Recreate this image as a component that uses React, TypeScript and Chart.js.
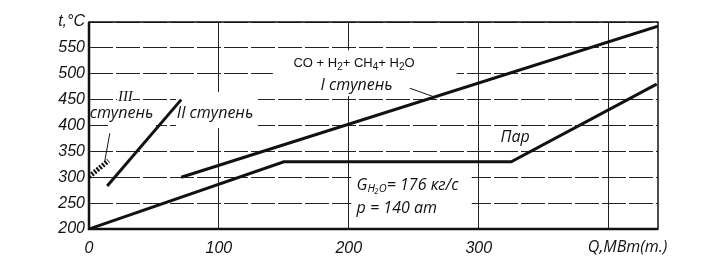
import React, { useEffect, useRef } from "react";
import { Chart, registerables } from "chart.js";

Chart.register(...registerables);

// ---- data ----
const xTickValues = [0, 100, 200, 300, 400];
const yTickValues = [200, 250, 300, 350, 400, 450, 500, 550, 600];
const qMax = 438;

// Пар (steam/water side)
const steamQ = [0, 150, 325, 437];
const steamT = [200, 330, 330, 480];
// I ступень: CO+H2+CH4+H2O
const stage1Q = [71, 438];
const stage1T = [300, 592];
// II ступень
const stage2Q = [14, 71];
const stage2T = [283, 450];
// III ступень
const stage3Q = [0, 15];
const stage3T = [301, 332];

const yTitle = "t,°C";
const xTitle = "Q,МВт(т.)";

const toPts = (q: number[], t: number[]) => q.map((v, i) => ({ x: v, y: t[i] }));

const TICK_FAMILY = "'Liberation Sans', Arial, sans-serif";
const ITAL = "italic 16px 'Open Sans'";
const INK = "#111";

type Run = { t: string; sub?: boolean };

function drawRuns(
  ctx: CanvasRenderingContext2D,
  runs: Run[],
  x: number,
  y: number,
  align: "left" | "center",
  font: string,
  subFont: string,
  subShift: number
) {
  let total = 0;
  for (const r of runs) {
    ctx.font = r.sub ? subFont : font;
    total += ctx.measureText(r.t).width;
  }
  let cx = align === "center" ? x - total / 2 : x;
  ctx.textAlign = "left";
  ctx.textBaseline = "middle";
  for (const r of runs) {
    ctx.font = r.sub ? subFont : font;
    ctx.fillText(r.t, cx, r.sub ? y + subShift : y);
    cx += ctx.measureText(r.t).width;
  }
}

const xTitleQ = 384;

const annotPlugin = {
  id: "annot",
  beforeDatasetsDraw(chart: any) {
    const { ctx, chartArea, scales } = chart;
    const X = (v: number) => scales.x.getPixelForValue(v);
    const Y = (v: number) => scales.y.getPixelForValue(v);
    ctx.save();
    // white label backgrounds that interrupt the grid (as in the drawing)
    const boxes = [
      [141.5, 545.6, 283, 456.8],
      [202, 310, 294.6, 221],
      [67, 464.5, 130, 395],
      [14.6, 439, 51.5, 395],
      [21.5, 464.5, 33.5, 441],
    ];
    ctx.fillStyle = "#fff";
    for (const [x0, y0, x1, y1] of boxes) {
      ctx.fillRect(X(x0), Y(y0), X(x1) - X(x0), Y(y1) - Y(y0));
    }
    // frame
    ctx.strokeStyle = INK;
    ctx.lineWidth = 1.5;
    ctx.strokeRect(chartArea.left, chartArea.top, chartArea.right - chartArea.left, chartArea.bottom - chartArea.top);
    ctx.lineWidth = 2.5;
    ctx.beginPath();
    ctx.moveTo(chartArea.left, chartArea.top);
    ctx.lineTo(chartArea.left, chartArea.bottom);
    ctx.lineTo(chartArea.right, chartArea.bottom);
    ctx.stroke();
    ctx.restore();
  },
  afterDatasetsDraw(chart: any) {
    const { ctx, chartArea, scales } = chart;
    const X = (v: number) => scales.x.getPixelForValue(v);
    const Y = (v: number) => scales.y.getPixelForValue(v);
    ctx.save();
    ctx.fillStyle = INK;
    ctx.strokeStyle = INK;

    // CO+H2+CH4+H2O
    drawRuns(
      ctx,
      [
        { t: "CO + H" },
        { t: "2", sub: true },
        { t: "+ CH" },
        { t: "4", sub: true },
        { t: "+ H" },
        { t: "2", sub: true },
        { t: "O" },
      ],
      X(204),
      Y(520),
      "center",
      "13px 'Liberation Sans'",
      "10px 'Liberation Sans'",
      4
    );
    drawRuns(ctx, [{ t: "I ступень" }], X(206), Y(478), "center", ITAL, ITAL, 0);
    drawRuns(ctx, [{ t: "III" }], X(28), Y(455), "center", "italic 15px 'Liberation Serif'", ITAL, 0);
    drawRuns(ctx, [{ t: "ступень" }], X(25), Y(424), "center", ITAL, ITAL, 0);
    drawRuns(ctx, [{ t: "II ступень" }], X(97), Y(424), "center", ITAL, ITAL, 0);
    drawRuns(ctx, [{ t: "Пар" }], X(328), Y(376), "center", ITAL, ITAL, 0);
    drawRuns(
      ctx,
      [{ t: "G" }, { t: "H₂O", sub: true }, { t: "= 176 кг/с" }],
      X(206),
      Y(285),
      "left",
      ITAL,
      "italic 11px 'Open Sans'",
      4
    );
    drawRuns(ctx, [{ t: "p = 140 ат" }], X(206), Y(240), "left", ITAL, ITAL, 0);

    // leader lines
    ctx.lineWidth = 1;
    ctx.beginPath();
    ctx.moveTo(X(247), Y(472));
    ctx.lineTo(X(266), Y(455));
    ctx.moveTo(X(16), Y(385));
    ctx.lineTo(X(12), Y(329));
    ctx.stroke();

    // x-axis title in place of the 400 label
    ctx.font = "italic 16px 'Open Sans'";
    ctx.textAlign = "left";
    ctx.textBaseline = "middle";
    ctx.fillText(xTitle, X(xTitleQ), chartArea.bottom + 18);
    ctx.restore();
  },
};

export default function App() {
  const ref = useRef<HTMLCanvasElement>(null);
  useEffect(() => {
    if (!ref.current) return;
    const line = (q: number[], t: number[], w: number, dash: number[] = []) => ({
      data: toPts(q, t),
      borderColor: INK,
      borderWidth: w,
      borderDash: dash,
      pointRadius: 0,
      tension: 0,
      fill: false,
      borderCapStyle: "butt" as const,
    });
    const chart = new Chart(ref.current, {
      type: "line",
      data: {
        datasets: [
          line(steamQ, steamT, 3),
          line(stage1Q, stage1T, 3),
          line(stage2Q, stage2T, 3),
          line(stage3Q, stage3T, 5, [2, 1.5]),
        ],
      },
      plugins: [annotPlugin],
      options: {
        animation: false,
        responsive: false,
        events: [],
        layout: { padding: { left: 0, top: 22, right: 67, bottom: 0 } },
        plugins: { legend: { display: false }, tooltip: { enabled: false } },
        scales: {
          x: {
            type: "linear",
            min: 0,
            max: qMax,
            afterBuildTicks: (s: any) => {
              s.ticks = xTickValues.map((v) => ({ value: v }));
            },
            afterFit: (s: any) => {
              s.height = 40;
            },
            grid: { color: "#222", lineWidth: 1, drawTicks: false },
            border: { display: false },
            ticks: {
              color: INK,
              font: { family: TICK_FAMILY, size: 16, style: "italic" },
              padding: 10,
              maxRotation: 0,
              callback: (v: any) => (v === 400 ? "" : String(v)),
            },
          },
          y: {
            type: "linear",
            min: 200,
            max: 600,
            afterBuildTicks: (s: any) => {
              s.ticks = yTickValues.map((v) => ({ value: v }));
            },
            afterFit: (s: any) => {
              s.width = 89;
            },
            grid: { color: "#222", lineWidth: 1, drawTicks: false },
            border: { display: false, dash: [24, 3] },
            ticks: {
              color: INK,
              font: { family: TICK_FAMILY, size: 16, style: "italic" },
              padding: 4,
              callback: (v: any) => (v === 600 ? yTitle : String(v)),
            },
          },
        },
      },
    });
    return () => chart.destroy();
  }, []);
  return (
    <div style={{ position: "fixed", left: 0, top: 0, width: 725, height: 269, background: "#fff" }}>
      <canvas ref={ref} width={725} height={269} style={{ display: "block" }} />
    </div>
  );
}
